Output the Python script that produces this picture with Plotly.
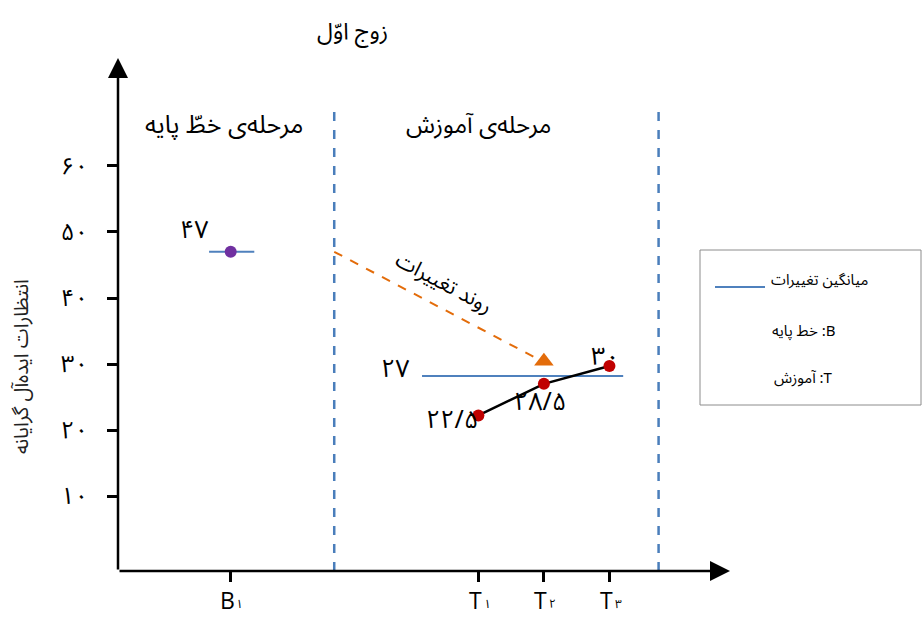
import plotly.graph_objects as go

# ---- data ----
baseline_x = [1.72]
baseline_y = [47]
baseline_labels = ["۴۷"]

train_x = [5.5, 6.5, 7.5]
train_y = [22.2, 27.0, 29.7]
train_labels = ["۲۲/۵", "۲۸/۵", "۳۰"]

baseline_mean = 47
train_mean = 28.2
train_mean_label = "۲۷"

tick_x_vals = [1.72, 5.5, 6.5, 7.5]
tick_x_letters = ["B", "T", "T", "T"]
tick_x_subs = ["۱", "۱", "۲", "۳"]
tick_y_vals = [10, 20, 30, 40, 50, 60]
tick_y_text = ["۱۰", "۲۰", "۳۰", "۴۰", "۵۰", "۶۰"]

legend_items = ["میانگین تغییرات", "خط پایه :B", "آموزش :T"]

phase_dividers = [3.3, 8.25]
trend_start = (3.3, 47)
trend_end = (6.5, 30.4)

FONT = "Noto Sans Arabic, Noto Naskh Arabic, Noto Sans, DejaVu Sans"
LATIN = "Open Sans, Noto Sans Arabic, DejaVu Sans"
W, H = 923, 618
L, R, T, B = 118, 193, 58, 47
XR = [0, 9.34]
YR = [-1.36, 76.36]
PW = W - L - R
PH = H - T - B


def px(xp, yp):
    return (xp - L) / PW, (H - B - yp) / PH


fig = go.Figure()

# phase dividers
for xd in phase_dividers:
    fig.add_trace(go.Scatter(x=[xd, xd], y=[YR[0], 68.5], mode="lines",
                             line=dict(color="#4a7ebb", width=2.5, dash="dash"),
                             hoverinfo="skip", showlegend=False))

# mean lines
fig.add_trace(go.Scatter(x=[1.39, 2.08], y=[baseline_mean, baseline_mean], mode="lines",
                         line=dict(color="#4f81bd", width=2), showlegend=False))
fig.add_trace(go.Scatter(x=[4.64, 7.71], y=[train_mean, train_mean], mode="lines",
                         line=dict(color="#4f81bd", width=2), showlegend=False))

# trend arrow (dashed orange)
fig.add_trace(go.Scatter(x=[trend_start[0], trend_end[0] - 0.1], y=[trend_start[1], trend_end[1] + 0.4],
                         mode="lines", line=dict(color="#e36c0a", width=2, dash="dash"),
                         showlegend=False))
fig.add_trace(go.Scatter(x=[trend_end[0]], y=[trend_end[1]], mode="markers",
                         marker=dict(symbol="triangle-up", size=17, color="#e36c0a"),
                         showlegend=False))

# training line
fig.add_trace(go.Scatter(x=train_x, y=train_y, mode="lines+markers",
                         line=dict(color="black", width=2.5),
                         marker=dict(color="#c00000", size=12),
                         showlegend=False))
# baseline point
fig.add_trace(go.Scatter(x=baseline_x, y=baseline_y, mode="markers",
                         marker=dict(color="#7030a0", size=12), showlegend=False))

ann = []
# axes with arrows
ann.append(dict(x=0, y=YR[1], ax=0, ay=YR[0], xref="x", yref="y", axref="x", ayref="y",
                showarrow=True, arrowhead=2, arrowsize=1.6, arrowwidth=2.5, arrowcolor="black", text=""))
ann.append(dict(x=XR[1], y=YR[0], ax=0, ay=YR[0], xref="x", yref="y", axref="x", ayref="y",
                showarrow=True, arrowhead=2, arrowsize=1.6, arrowwidth=2.5, arrowcolor="black", text=""))

def text_at(xp, yp, s, size, angle=0, color="black", family=FONT):
    xx, yy = px(xp, yp)
    ann.append(dict(x=xx, y=yy, xref="paper", yref="paper", text=s, showarrow=False,
                    font=dict(size=size, color=color, family=family), textangle=angle,
                    xanchor="center", yanchor="middle"))

text_at(352, 32, "زوج اوّل", 23)
text_at(224, 125, "مرحله‌ی خطّ پایه", 25)
text_at(478, 125, "مرحله‌ی آموزش", 24)
text_at(22, 367, "انتظارات ایده‌آل گرایانه", 20, angle=-90, color="#222")
text_at(444, 283, "روند تغییرات", 21, angle=28)

# data labels
text_at(194, 230, baseline_labels[0], 25)
text_at(395, 369, train_mean_label, 25)
text_at(452, 420, train_labels[0], 25)
text_at(540, 402, train_labels[1], 25)
text_at(605, 357, train_labels[2], 25)

# x tick labels (letter + subscript digit), anchored to the tick values
_, y_main = px(0, 600)
_, y_sub = px(0, 604)
for xv, letter, sub in zip(tick_x_vals, tick_x_letters, tick_x_subs):
    ann.append(dict(x=xv, y=y_main, xref="x", yref="paper", text=letter, showarrow=False,
                    xshift=-3, font=dict(size=23, family=LATIN, color="black"),
                    xanchor="center", yanchor="middle"))
    ann.append(dict(x=xv, y=y_sub, xref="x", yref="paper", text=sub, showarrow=False,
                    xshift=9, font=dict(size=12, family=FONT, color="black"),
                    xanchor="center", yanchor="middle"))

# legend box
x0, y0 = px(700, 405)
x1, y1 = px(921, 250)
shapes = [dict(type="rect", xref="paper", yref="paper", x0=x0, y0=y0, x1=x1, y1=y1,
               line=dict(color="#8c8c8c", width=1), fillcolor="white", layer="below")]
lx0, ly = px(715, 287)
lx1, _ = px(765, 287)
shapes.append(dict(type="line", xref="paper", yref="paper", x0=lx0, x1=lx1, y0=ly, y1=ly,
                   line=dict(color="#4f81bd", width=2)))
text_at(819, 280, legend_items[0], 15)
text_at(804, 331, legend_items[1], 15)
text_at(803, 378, legend_items[2], 15)

fig.update_layout(
    width=W, height=H,
    margin=dict(l=L, r=R, t=T, b=B, autoexpand=False),
    paper_bgcolor="white", plot_bgcolor="white",
    annotations=ann, shapes=shapes,
    font=dict(family=FONT, color="black"),
    xaxis=dict(range=XR, showgrid=False, zeroline=False, showline=False, automargin=False,
               tickmode="array", tickvals=tick_x_vals, showticklabels=False,
               ticks="outside", ticklen=10, tickwidth=2.5, tickcolor="black"),
    yaxis=dict(range=YR, showgrid=False, zeroline=False, showline=False, automargin=False,
               tickmode="array", tickvals=tick_y_vals, ticktext=tick_y_text,
               ticks="outside", ticklen=10, tickwidth=2.5, tickcolor="black",
               tickfont=dict(size=24, family=FONT), ticklabelstandoff=14),
)

fig.write_html("out.html", config={"displayModeBar": False},
               post_script="document.body.style.margin='0';document.body.style.overflow='hidden';")
